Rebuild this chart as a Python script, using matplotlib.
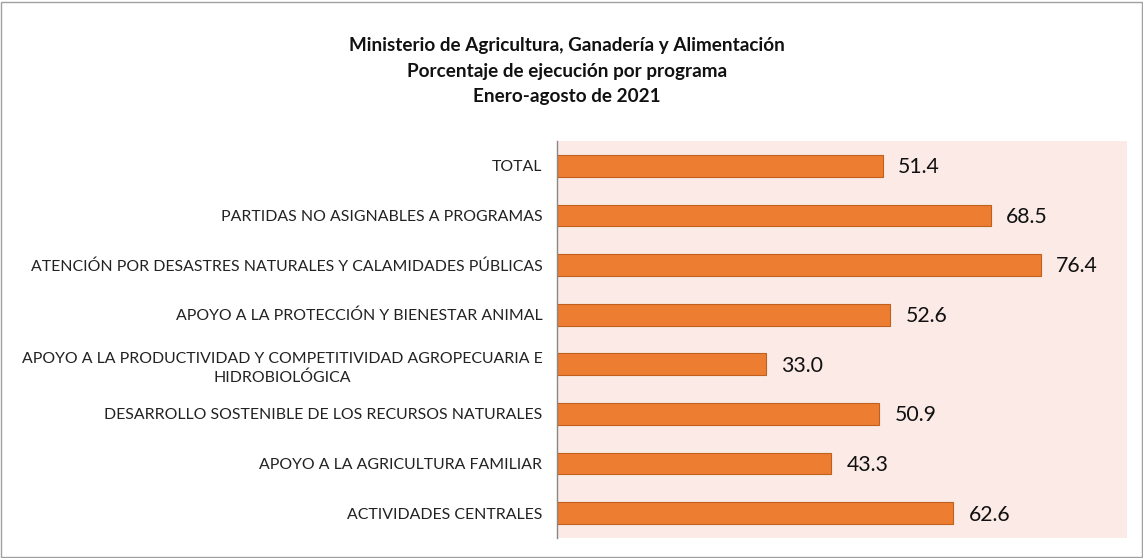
import numpy as np
import matplotlib.pyplot as plt
from matplotlib.patches import Rectangle

##Data
programas = ['TOTAL',
'PARTIDAS NO ASIGNABLES A PROGRAMAS',
'ATENCIÓN POR DESASTRES NATURALES Y CALAMIDADES PÚBLICAS',
'APOYO A LA PROTECCIÓN Y BIENESTAR ANIMAL',
'APOYO A LA PRODUCTIVIDAD Y COMPETITIVIDAD AGROPECUARIA E\nHIDROBIOLÓGICA',
'DESARROLLO SOSTENIBLE DE LOS RECURSOS NATURALES',
'APOYO A LA AGRICULTURA FAMILIAR',
'ACTIVIDADES CENTRALES']

ejecucion = [51.4, 68.5, 76.4, 52.6, 33.0, 50.9, 43.3, 62.6]

titulo = ['Ministerio de Agricultura, Ganadería y Alimentación',
'Porcentaje de ejecución por programa',
'Enero-agosto de 2021']

plt.rcParams['font.family'] = ['Lato', 'DejaVu Sans']

fig = plt.figure(figsize=(11.43, 5.58), dpi=100)
ax = fig.add_axes([557/1143, 1-538/558, (1127-557)/1143, (538-141)/558])

y = np.arange(len(programas))
ax.barh(y, ejecucion, height=0.44, color='#ED7D31', edgecolor='#C0601F', linewidth=0.8)
for yi, v in zip(y, ejecucion):
    ax.annotate(f'{v:.1f}', (v, yi), xytext=(11, -1), textcoords='offset points',
                va='center', ha='left', fontsize=15.3, color='#111111')

ax.set_xlim(0, 90)
ax.set_ylim(len(programas)-0.5, -0.5)
ax.set_facecolor('#FBEAE5')
ax.set_yticks(y)
ax.set_yticklabels(programas, fontsize=11.4, color='#222222', linespacing=1.4,
                   multialignment='center')
ax.tick_params(axis='y', length=0, pad=10.5)
ax.set_xticks([])
for s in ['top', 'right', 'bottom']:
    ax.spines[s].set_visible(False)
ax.spines['left'].set_color('#888888')
ax.spines['left'].set_linewidth(1.0)

for i, t in enumerate(titulo):
    fig.text(567/1143, 1-(46+25*i)/558, t, ha='center', va='center',
             fontsize=13.6, fontweight='bold', color='#111111')

fig.patches.append(Rectangle((1/1143, 1/558), 1141/1143, 555/558, transform=fig.transFigure,
                             fill=False, edgecolor='#A0A0A0', linewidth=1.0))

fig.savefig('out.png', dpi=100)
